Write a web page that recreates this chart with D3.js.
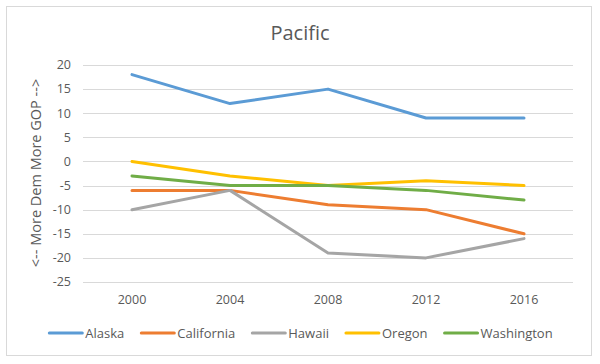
<!DOCTYPE html>
<meta charset="utf-8">
<script src="https://d3js.org/d3.v7.min.js"></script>
<style>
  body { margin: 0; background: #fff; }
  text { font-family: "Open Sans", "Liberation Sans", sans-serif; fill: #595959; }
</style>
<svg id="chart" width="600" height="364"></svg>
<script>

// Data
const years = ["2000", "2004", "2008", "2012", "2016"];
const states = ["Alaska", "California", "Hawaii", "Oregon", "Washington"];
const alaska = [18, 12, 15, 9, 9];
const california = [-6, -6, -9, -10, -15];
const hawaii = [-10, -6, -19, -20, -16];
const oregon = [0, -3, -5, -4, -5];
const washington = [-3, -5, -5, -6, -8];
const yTicks = [20, 15, 10, 5, 0, -5, -10, -15, -20, -25];
const colors = ["#5B9BD5", "#ED7D31", "#A5A5A5", "#FFC000", "#70AD47"];

const seriesValues = [alaska, california, hawaii, oregon, washington];

const svg = d3.select("#chart");

// chart border
svg.append("rect")
  .attr("x", 6.5).attr("y", 6.5)
  .attr("width", 585).attr("height", 349)
  .attr("fill", "#fff")
  .attr("stroke", "#d9d9d9");

const margin = { left: 83, right: 573, top: 65, bottom: 282 };

const x = d3.scaleBand()
  .domain(years)
  .range([margin.left, margin.right]);

const y = d3.scaleLinear()
  .domain([-25, 20])
  .range([margin.bottom, margin.top]);

// Gridlines
svg.append("g")
  .selectAll("line")
  .data(yTicks)
  .join("line")
    .attr("x1", margin.left)
    .attr("x2", margin.right)
    .attr("y1", d => Math.round(y(d)) + 0.5)
    .attr("y2", d => Math.round(y(d)) + 0.5)
    .attr("stroke", "#d9d9d9")
    .attr("stroke-width", 1);

// Y tick labels
svg.append("g")
  .selectAll("text")
  .data(yTicks)
  .join("text")
    .attr("x", 71)
    .attr("y", d => y(d))
    .attr("dy", "0.35em")
    .attr("text-anchor", "end")
    .style("font-size", "12.5px")
    .text(d => d);

// X tick labels
svg.append("g")
  .selectAll("text")
  .data(years)
  .join("text")
    .attr("x", d => x(d) + x.bandwidth() / 2)
    .attr("y", 300)
    .attr("dy", "0.35em")
    .attr("text-anchor", "middle")
    .style("font-size", "12.5px")
    .text(d => d);

// Lines
const line = d3.line()
  .x((d, i) => x(years[i]) + x.bandwidth() / 2)
  .y(d => y(d));

svg.append("g")
  .selectAll("path")
  .data(seriesValues)
  .join("path")
    .attr("d", d => line(d))
    .attr("fill", "none")
    .attr("stroke", (d, i) => colors[i])
    .attr("stroke-width", 3)
    .attr("stroke-linecap", "round")
    .attr("stroke-linejoin", "round");

// Title
svg.append("text")
  .attr("x", 300)
  .attr("y", 33)
  .attr("dy", "0.35em")
  .attr("text-anchor", "middle")
  .style("font-size", "20px")
  .text("Pacific");

// Y axis title
svg.append("text")
  .attr("transform", "translate(36,173) rotate(-90)")
  .attr("dy", "0.35em")
  .attr("text-anchor", "middle")
  .style("font-size", "14.5px")
  .text("<-- More Dem More GOP -->");

// Legend
const legend = svg.append("g");
const items = legend.selectAll("g")
  .data(states)
  .join("g");

items.append("line")
  .attr("x1", 0).attr("x2", 33)
  .attr("y1", 0).attr("y2", 0)
  .attr("stroke", (d, i) => colors[i])
  .attr("stroke-width", 3)
  .attr("stroke-linecap", "round");

items.append("text")
  .attr("x", 36)
  .attr("dy", "0.35em")
  .style("font-size", "13px")
  .text(d => d);

const widths = [];
items.each(function() {
  const w = d3.select(this).select("text").node().getComputedTextLength() + 36;
  widths.push(w);
});
const gap = 17;
const total = d3.sum(widths) + gap * (widths.length - 1);
let start = 301 - total / 2;
items.attr("transform", (d, i) => {
  const t = `translate(${start},333)`;
  start += widths[i] + gap;
  return t;
});

</script>
